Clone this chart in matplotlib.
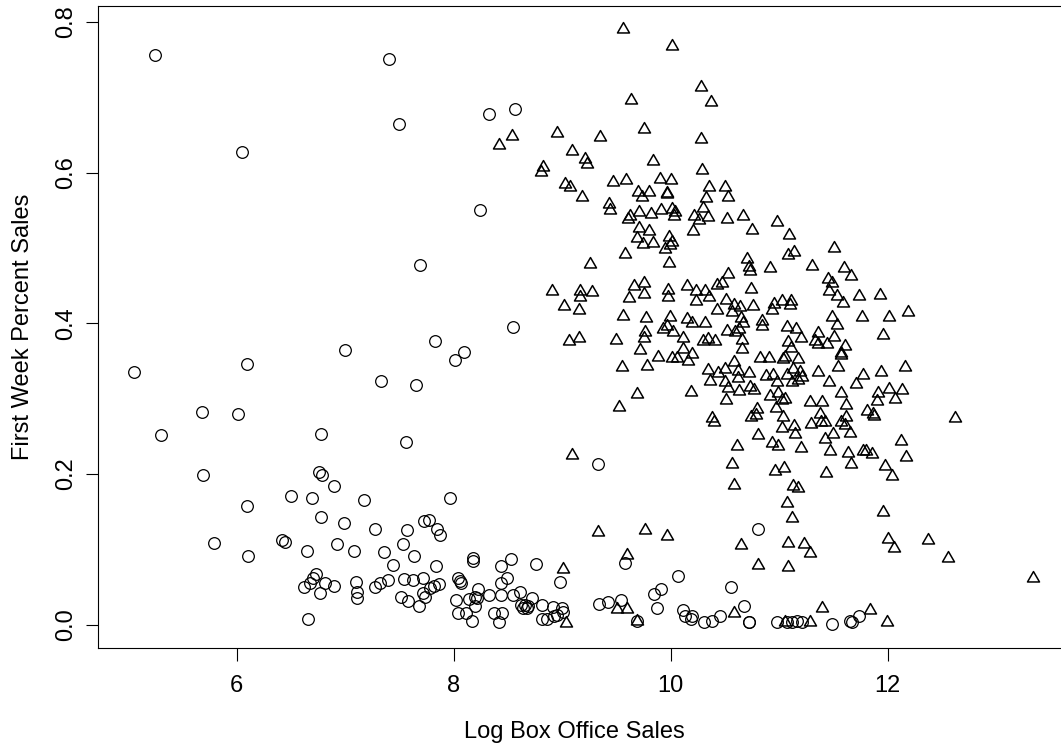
import matplotlib
matplotlib.use("Agg")
import matplotlib.pyplot as plt
from matplotlib.path import Path

# films with small release (circles)
circ_x = [5.247, 7.404, 7.493, 6.049, 8.328, 8.568, 8.242,
          5.053, 6.098, 6.998, 7.330, 7.655, 5.677, 6.015, 5.302, 6.774, 7.557, 7.689,
          7.830, 8.095, 8.015, 8.544,
          10.802, 10.556, 10.679, 10.722, 10.725, 10.977, 11.069, 11.115, 11.161, 11.207,
          11.484, 11.652, 11.668, 11.736,
          9.327, 7.969, 9.576, 8.983, 10.065, 9.844, 9.908, 9.871, 9.336, 9.422, 9.542,
          9.687, 10.111, 10.132, 10.194, 10.187, 10.310, 10.384, 10.454, 9.010, 8.995,
          8.949, 8.924, 8.918, 8.814, 8.814, 8.863, 8.758, 8.722, 8.611, 8.657, 8.642,
          8.673, 8.617, 8.688, 8.544, 8.525, 8.439, 8.491, 8.439, 8.439, 8.371, 8.448,
          8.421, 8.328, 8.227, 8.196, 8.212, 8.144, 8.196, 8.175, 8.175, 8.042, 8.058,
          8.067, 8.021, 8.037, 8.113, 8.172, 7.724, 7.776, 7.849, 7.874, 7.637, 7.834,
          7.721, 7.622, 7.818, 7.867, 7.781, 7.721, 7.736, 7.684,
          5.692, 6.098, 5.791, 6.107, 6.657, 6.759, 6.783, 6.900, 6.503, 6.691, 7.170,
          6.780, 6.986, 7.275, 7.570, 6.420, 6.445, 6.648, 6.927, 7.078, 7.355, 7.530,
          7.444, 7.392, 7.321, 7.275, 7.546, 7.514, 7.576, 6.728, 6.706, 6.676, 6.624,
          6.814, 6.900, 6.771, 7.100, 7.109, 7.112]
circ_y = [0.756, 0.751, 0.664, 0.628, 0.678, 0.685, 0.551,
          0.335, 0.346, 0.365, 0.323, 0.318, 0.282, 0.280, 0.252, 0.253, 0.242, 0.477,
          0.377, 0.362, 0.351, 0.395,
          0.127, 0.050, 0.025, 0.004, 0.004, 0.004, 0.004, 0.004, 0.005, 0.003,
          0.001, 0.005, 0.003, 0.012,
          0.213, 0.168, 0.082, 0.057, 0.065, 0.041, 0.048, 0.022, 0.027, 0.030, 0.033,
          0.005, 0.019, 0.012, 0.012, 0.008, 0.003, 0.005, 0.012, 0.017, 0.022,
          0.013, 0.011, 0.024, 0.026, 0.008, 0.008, 0.080, 0.035, 0.044, 0.026, 0.022,
          0.022, 0.026, 0.025, 0.040, 0.087, 0.078, 0.062, 0.056, 0.040, 0.016, 0.016,
          0.003, 0.040, 0.047, 0.037, 0.035, 0.034, 0.025, 0.088, 0.085, 0.062, 0.058,
          0.056, 0.033, 0.015, 0.015, 0.005, 0.138, 0.139, 0.127, 0.119, 0.091, 0.078,
          0.062, 0.059, 0.051, 0.054, 0.049, 0.042, 0.037, 0.025,
          0.199, 0.158, 0.108, 0.091, 0.008, 0.203, 0.199, 0.184, 0.171, 0.168, 0.165,
          0.143, 0.135, 0.127, 0.126, 0.112, 0.110, 0.098, 0.107, 0.098, 0.097, 0.107,
          0.079, 0.060, 0.056, 0.050, 0.061, 0.037, 0.031, 0.067, 0.062, 0.055, 0.050,
          0.055, 0.052, 0.042, 0.057, 0.043, 0.035]

# films with wide release (triangles)
tri_x = [9.563, 10.009, 10.279, 10.371, 9.637, 9.757, 10.279, 10.288, 8.955, 9.349,
         8.541, 8.418, 9.091, 9.210, 9.231, 9.840, 8.826, 8.802, 9.026, 9.072, 9.185,
         9.472, 9.588, 9.899, 10.006, 9.699, 9.800, 9.733, 9.963, 9.969, 9.429, 9.441,
         9.711, 9.821, 9.911, 10.012, 10.040, 10.033, 9.625, 9.610, 10.353, 10.323,
         10.298, 10.218, 10.258, 10.341, 10.500, 10.531, 10.516,
         10.669, 10.977,
         8.909, 9.161, 9.277, 9.164, 9.017, 9.158, 9.256, 9.579, 9.066, 9.158, 9.499,
         9.548, 9.692, 9.521, 9.782, 9.714, 9.880, 10.015, 10.055, 10.116, 10.196,
         10.157, 10.187, 10.384, 10.396, 9.560, 9.775, 9.760, 9.757, 9.616, 9.659,
         9.757, 9.757, 9.972, 9.972, 9.996, 9.926, 9.963, 10.018, 10.113, 10.147,
         10.194, 10.316, 10.301, 10.344, 10.411, 10.153, 10.230, 10.236, 10.319,
         10.356, 10.424, 10.473, 10.424, 10.510, 10.531, 10.522, 10.347, 10.362,
         10.436, 10.500, 10.500, 10.510, 9.711, 9.797, 9.692, 9.742, 9.840, 9.987,
         10.009, 9.993, 9.950, 9.987, 10.208,
         10.747, 11.094, 11.508, 11.085, 11.140, 10.704, 10.722, 10.732, 10.912,
         11.305, 11.594, 11.659, 11.453, 11.490, 11.459, 11.533, 11.585, 11.736,
         11.932, 12.190, 12.015, 11.763, 11.487, 11.533, 11.957, 10.743, 10.759,
         10.581, 10.639, 10.569, 10.956, 11.029, 11.109, 11.103, 10.931, 10.648,
         10.669, 10.593, 10.633, 10.845, 10.845, 11.072, 11.158, 11.201, 11.355,
         11.330, 11.355, 11.438, 11.502, 11.609, 11.570, 11.572, 10.654, 10.660,
         11.085, 11.106, 10.821, 10.906, 11.032, 11.054, 11.176, 11.545, 10.587,
         10.624, 10.624, 10.722, 10.882, 10.946, 10.977, 11.069, 11.130, 11.192,
         11.207, 11.171, 11.115, 11.361, 11.462, 11.775, 11.938, 12.156, 11.705,
         10.525, 10.629, 10.731, 10.771, 10.915, 10.992, 11.023, 11.054, 10.970,
         11.283, 11.397, 11.566, 11.619, 11.907, 12.015, 12.129, 11.898, 12.070,
         11.806, 11.862, 11.877, 10.793, 10.784, 10.740, 11.032, 11.379, 11.385,
         11.422, 11.293, 11.140, 11.029, 11.149, 11.613, 11.566, 11.606, 11.655,
         11.499, 11.422, 10.808, 12.618, 12.123,
         10.611, 10.931, 10.992, 11.201, 11.468, 11.637, 11.775, 11.797, 11.852,
         12.169, 10.569, 10.961, 11.044, 11.431, 11.659, 11.975, 12.043, 10.587,
         11.130, 11.176, 11.075, 11.115, 11.954, 12.006, 12.061, 12.374, 12.559,
         13.337, 10.648, 11.078, 11.226, 11.284, 10.805, 11.085, 10.584, 11.054,
         11.284, 11.397, 11.834, 11.994,
         9.094, 9.327, 9.763, 9.966, 9.600, 9.010, 9.509, 9.600, 9.687, 9.032]
tri_y = [0.790, 0.768, 0.713, 0.694, 0.697, 0.658, 0.644, 0.604, 0.652, 0.647,
         0.648, 0.637, 0.629, 0.618, 0.612, 0.616, 0.608, 0.601, 0.585, 0.581, 0.567,
         0.588, 0.590, 0.592, 0.590, 0.574, 0.574, 0.568, 0.573, 0.571, 0.558, 0.550,
         0.548, 0.545, 0.550, 0.552, 0.548, 0.543, 0.542, 0.539, 0.581, 0.566,
         0.553, 0.542, 0.537, 0.541, 0.581, 0.568, 0.539,
         0.542, 0.535,
         0.443, 0.443, 0.442, 0.435, 0.423, 0.418, 0.479, 0.492, 0.377, 0.380, 0.378,
         0.342, 0.306, 0.289, 0.343, 0.364, 0.355, 0.354, 0.354, 0.366, 0.359,
         0.350, 0.309, 0.274, 0.269, 0.410, 0.407, 0.389, 0.381, 0.434, 0.450,
         0.453, 0.439, 0.444, 0.435, 0.408, 0.392, 0.397, 0.389, 0.381, 0.406,
         0.400, 0.400, 0.377, 0.379, 0.376, 0.450, 0.443, 0.429, 0.443,
         0.435, 0.451, 0.453, 0.417, 0.431, 0.466, 0.390, 0.338, 0.323,
         0.334, 0.340, 0.322, 0.298, 0.526, 0.522, 0.513, 0.505, 0.507, 0.515,
         0.508, 0.504, 0.499, 0.480, 0.522,
         0.524, 0.517, 0.500, 0.491, 0.494, 0.485, 0.475, 0.469, 0.473,
         0.476, 0.474, 0.463, 0.459, 0.453, 0.443, 0.436, 0.427, 0.436,
         0.438, 0.415, 0.409, 0.408, 0.409, 0.398, 0.385, 0.445, 0.423,
         0.424, 0.422, 0.415, 0.425, 0.430, 0.430, 0.424, 0.417, 0.407,
         0.400, 0.389, 0.393, 0.403, 0.396, 0.395, 0.392, 0.380, 0.387,
         0.377, 0.373, 0.373, 0.382, 0.370, 0.361, 0.358, 0.378, 0.366,
         0.375, 0.367, 0.354, 0.354, 0.353, 0.355, 0.352, 0.342, 0.349,
         0.337, 0.327, 0.334, 0.330, 0.332, 0.322, 0.332, 0.340, 0.336,
         0.329, 0.325, 0.322, 0.336, 0.322, 0.331, 0.336, 0.342, 0.319,
         0.314, 0.310, 0.315, 0.311, 0.304, 0.307, 0.298, 0.300, 0.287,
         0.295, 0.295, 0.307, 0.292, 0.308, 0.313, 0.311, 0.297, 0.299,
         0.283, 0.279, 0.277, 0.286, 0.278, 0.275, 0.275, 0.279, 0.269,
         0.269, 0.266, 0.264, 0.261, 0.253, 0.276, 0.269, 0.265, 0.254,
         0.253, 0.246, 0.252, 0.274, 0.244,
         0.237, 0.241, 0.237, 0.235, 0.230, 0.228, 0.230, 0.231, 0.227,
         0.223, 0.213, 0.204, 0.208, 0.201, 0.213, 0.211, 0.197, 0.185,
         0.184, 0.181, 0.161, 0.142, 0.150, 0.114, 0.102, 0.112, 0.088,
         0.062, 0.106, 0.108, 0.107, 0.095, 0.079, 0.077, 0.015, 0.003,
         0.003, 0.022, 0.020, 0.004,
         0.225, 0.123, 0.126, 0.118, 0.093, 0.074, 0.021, 0.021, 0.005, 0.002]

xticks = [6, 8, 10, 12]
yticks = [0.0, 0.2, 0.4, 0.6, 0.8]
ytick_labels = ["0.0", "0.2", "0.4", "0.6", "0.8"]

plt.rcParams['font.family'] = ['Liberation Sans', 'DejaVu Sans']

fig = plt.figure(figsize=(10.61, 7.5), dpi=100)
# plot box runs past the right edge of the picture, like the original
ax = fig.add_axes([0.0926, 0.1364, 0.9146, 0.8552])

# closed equilateral triangle, centred on its centroid (R pch=2)
tri = Path([(0, 1), (0.866, -0.5), (-0.866, -0.5), (0, 1)], closed=True)

ax.plot(circ_x, circ_y, linestyle="none", marker="o", markersize=8.4,
        markerfacecolor="none", markeredgecolor="black", markeredgewidth=0.9)
ax.plot(tri_x, tri_y, linestyle="none", marker=tri, markersize=10,
        markerfacecolor="none", markeredgecolor="black", markeredgewidth=1.1)

ax.set_xlim(4.724, 13.668)
ax.set_ylim(-0.0305, 0.8207)
ax.set_xticks(xticks)
ax.set_xticklabels([str(t) for t in xticks])
ax.set_yticks(yticks)
ax.set_yticklabels(ytick_labels, rotation=90, va="center")

for s in ax.spines.values():
    s.set_linewidth(0.8)
ax.tick_params(direction="out", length=9, width=0.8, labelsize=17, colors="black")
ax.tick_params(axis="x", pad=11)
ax.tick_params(axis="y", pad=6)

fig.text(574 / 1061, 1 - 732 / 750, "Log Box Office Sales", fontsize=17,
         ha="center", va="center")
fig.text(23 / 1061, 1 - 327 / 750, "First Week Percent Sales", fontsize=17,
         ha="center", va="center", rotation=90)

plt.savefig("out.png", dpi=100)
